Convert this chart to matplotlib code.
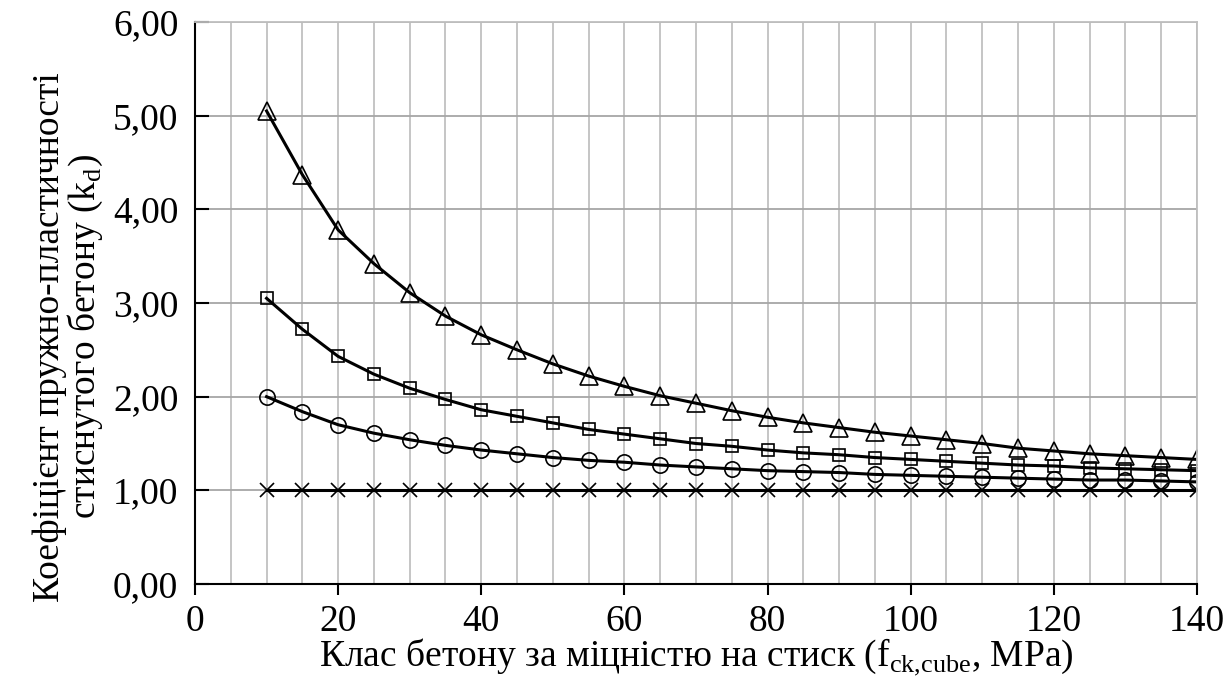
import matplotlib.pyplot as plt
from matplotlib.ticker import MultipleLocator, FuncFormatter

plt.rcParams['font.family'] = ['Liberation Serif', 'DejaVu Serif']

# concrete class, MPa
fck = [10, 15, 20, 25, 30, 35, 40, 45, 50, 55, 60, 65, 70, 75, 80,
       85, 90, 95, 100, 105, 110, 115, 120, 125, 130, 135, 140]

kd_tri = [5.05, 4.37, 3.78, 3.42, 3.11, 2.86, 2.66, 2.50, 2.35, 2.22, 2.11, 2.01, 1.93, 1.85,
          1.78, 1.72, 1.67, 1.62, 1.58, 1.54, 1.50, 1.45, 1.42, 1.39, 1.37, 1.35, 1.33]
kd_sq = [3.05, 2.72, 2.43, 2.24, 2.09, 1.97, 1.86, 1.79, 1.72, 1.65, 1.60, 1.55, 1.50, 1.47,
         1.43, 1.40, 1.38, 1.35, 1.33, 1.31, 1.29, 1.27, 1.26, 1.24, 1.23, 1.22, 1.21]
kd_circ = [2.00, 1.84, 1.70, 1.61, 1.54, 1.48, 1.43, 1.39, 1.35, 1.32, 1.30, 1.27, 1.25, 1.23,
           1.21, 1.20, 1.19, 1.17, 1.16, 1.15, 1.14, 1.13, 1.12, 1.11, 1.11, 1.10, 1.09]
kd_x = [1.00] * len(fck)

fs = 27

fig = plt.figure(figsize=(12.28, 6.91), dpi=100)
ax = fig.add_axes([195 / 1228, 1 - 584 / 691, (1197 - 195) / 1228, (584 - 22) / 691])

ax.plot(fck, kd_tri, color='black', lw=2.2, marker='^', ms=13, mfc='none', mec='black', mew=1.2)
ax.plot(fck, kd_sq, color='black', lw=2.2, marker='s', ms=9, mfc='none', mec='black', mew=1.2)
ax.plot(fck, kd_circ, color='black', lw=2.2, marker='o', ms=11, mfc='none', mec='black', mew=1.2)
ax.plot(fck, kd_x, color='black', lw=2.2, marker='x', ms=10, mec='black', mew=1.2)

ax.set_xlim(0, 140)
ax.set_ylim(0, 6)
ax.xaxis.set_major_locator(MultipleLocator(20))
ax.xaxis.set_minor_locator(MultipleLocator(5))
ax.yaxis.set_major_locator(MultipleLocator(1))
ax.yaxis.set_major_formatter(FuncFormatter(lambda v, p: f'{v:.2f}'.replace('.', ',')))

ax.grid(True, which='both', axis='x', color='#c0c0c0', lw=1.3)
ax.grid(True, which='major', axis='y', color='#a6a6a6', lw=1.3)
ax.set_axisbelow(True)

for s in ['top', 'right']:
    ax.spines[s].set_color('#bfbfbf')
    ax.spines[s].set_linewidth(1.3)
for s in ['left', 'bottom']:
    ax.spines[s].set_color('black')
    ax.spines[s].set_linewidth(1.5)

ax.tick_params(axis='x', which='major', direction='out', length=8, width=1.5, labelsize=fs, pad=7)
ax.tick_params(axis='x', which='minor', length=0)
ax.tick_params(axis='y', direction='in', length=10, width=1.5, labelsize=fs, pad=12)

ax.set_xlabel('Клас бетону за міцністю на стиск (f$_{\\mathregular{ck{,}cube}}$, MPa)', fontsize=fs, labelpad=-2)
ax.set_ylabel('Коефіцієнт пружно-пластичності\nстиснутого бетону (k$_{\\mathregular{d}}$)',
              fontsize=fs, labelpad=6, linespacing=0.95, y=0.44)

fig.savefig('out.png', dpi=100)
